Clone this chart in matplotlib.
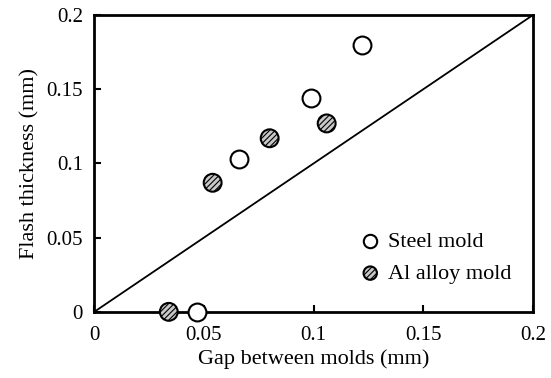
import numpy as np
import matplotlib.pyplot as plt

plt.rcParams['font.family'] = ['Liberation Serif', 'DejaVu Serif']
plt.rcParams['hatch.linewidth'] = 0.8

steel_gap = np.array([0.047, 0.066, 0.099, 0.122])
steel_flash = np.array([0.0, 0.103, 0.144, 0.180])

al_gap = np.array([0.034, 0.054, 0.080, 0.106])
al_flash = np.array([0.0, 0.087, 0.117, 0.127])

fig = plt.figure(figsize=(5.51, 3.78), dpi=100)
ax = fig.add_axes([0.171, 0.175, 0.796, 0.785])

ax.plot([0, 0.2], [0, 0.2], color='black', lw=1.3, zorder=1)

ax.scatter(steel_gap, steel_flash, s=165, facecolor='white', edgecolor='black',
           linewidth=1.5, zorder=3, clip_on=False, label='Steel mold')
ax.scatter(al_gap, al_flash, s=165, facecolor='#c8c8c8', edgecolor='black',
           linewidth=1.5, hatch='//////', zorder=3, clip_on=False, label='Al alloy mold')

ax.set_xlim(0, 0.2)
ax.set_ylim(0, 0.2)
ax.set_xticks([0, 0.05, 0.1, 0.15, 0.2])
ax.set_xticklabels(['0', '0.05', '0.1', '0.15', '0.2'])
ax.set_yticks([0, 0.05, 0.1, 0.15, 0.2])
ax.set_yticklabels(['0', '0.05', '0.1', '0.15', '0.2'])
ax.tick_params(direction='in', length=5, width=1.5, labelsize=15, pad=8,
               top=False, right=False)
ax.tick_params(axis='x', pad=10)
for sp in ax.spines.values():
    sp.set_linewidth(2)

ax.set_xlabel('Gap between molds (mm)', fontsize=16, labelpad=3)
ax.set_ylabel('Flash thickness (mm)', fontsize=16, labelpad=5)

ax.legend(loc='upper left', bbox_to_anchor=(0.604, 0.27), frameon=False,
          fontsize=16, handlelength=1.0, handletextpad=0.3, borderpad=0,
          borderaxespad=0, labelspacing=0.5, markerscale=0.75)

fig.savefig('out.png', dpi=100)
